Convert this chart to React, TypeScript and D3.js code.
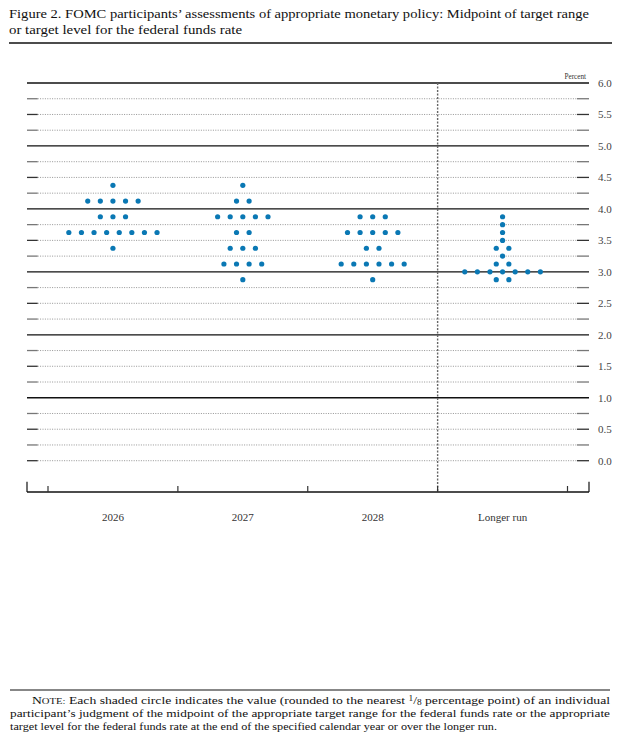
import React from "react";
import * as d3 from "d3";

const categories = ["2026", "2027", "2028", "Longer run"];

const values2026 = [
  4.375,
  4.125, 4.125, 4.125, 4.125, 4.125,
  3.875, 3.875, 3.875,
  3.625, 3.625, 3.625, 3.625, 3.625, 3.625, 3.625, 3.625,
  3.375,
];
const values2027 = [
  4.375,
  4.125, 4.125,
  3.875, 3.875, 3.875, 3.875, 3.875,
  3.625, 3.625,
  3.375, 3.375, 3.375,
  3.125, 3.125, 3.125, 3.125,
  2.875,
];
const values2028 = [
  3.875, 3.875, 3.875,
  3.625, 3.625, 3.625, 3.625, 3.625,
  3.375, 3.375,
  3.125, 3.125, 3.125, 3.125, 3.125, 3.125,
  2.875,
];
const valuesLongerRun = [
  3.875,
  3.75,
  3.625,
  3.5,
  3.375, 3.375,
  3.25,
  3.125, 3.125,
  3.0, 3.0, 3.0, 3.0, 3.0, 3.0, 3.0,
  2.875, 2.875,
];
const seriesValues = [values2026, values2027, values2028, valuesLongerRun];

const yTickLabels = ["0.0", "0.5", "1.0", "1.5", "2.0", "2.5", "3.0", "3.5", "4.0", "4.5", "5.0", "5.5", "6.0"];

const titleLine1 = "Figure 2. FOMC participants\u2019 assessments of appropriate monetary policy: Midpoint of target range";
const titleLine2 = "or target level for the federal funds rate";

const SERIF = "'Liberation Serif', 'DejaVu Serif', serif";
const DOT = "#0a78b4";

export default function App() {
  const W = 631;
  const H = 747;
  const plotLeft = 27;
  const plotRight = 589;
  const axisY = 492;

  const y = d3.scaleLinear().domain([0, 6]).range([460.7, 83]);
  const x = d3.scaleBand<string>().domain(categories).range([48, 567.5]).paddingInner(0).paddingOuter(0);
  const dotSpacing = 12.6;

  const gridVals = d3.range(0, 6.001, 0.25).map((v) => +v.toFixed(2));

  const dots: { cx: number; cy: number; key: string }[] = [];
  seriesValues.forEach((vals, ci) => {
    const groups = d3.rollups(vals, (g) => g.length, (d) => d);
    const center = (x(categories[ci]) as number) + x.bandwidth() / 2;
    groups.forEach(([val, count]) => {
      for (let i = 0; i < count; i++) {
        dots.push({
          cx: center + (i - (count - 1) / 2) * dotSpacing,
          cy: y(val),
          key: `${ci}-${val}-${i}`,
        });
      }
    });
  });

  const boundaries = categories.map((c) => x(c) as number).concat([(x(categories[3]) as number) + x.bandwidth()]);
  const dividerX = x(categories[3]) as number;

  return (
    <svg
      width={W}
      height={H}
      viewBox={`0 0 ${W} ${H}`}
      style={{ position: "absolute", left: 0, top: 0, display: "block", background: "#fff" }}
    >
      <rect x={0} y={0} width={W} height={H} fill="#fff" />
      {/* Title */}
      <text x={9} y={18} fontFamily={SERIF} fontSize={12.8} fill="#111" textLength={580} lengthAdjust="spacingAndGlyphs">
        {titleLine1}
      </text>
      <text x={9} y={34} fontFamily={SERIF} fontSize={12.8} fill="#111" textLength={233} lengthAdjust="spacingAndGlyphs">
        {titleLine2}
      </text>
      <line x1={9} x2={612} y1={43} y2={43} stroke="#111" strokeWidth={1.6} />

      {/* Percent label */}
      <text x={586} y={79} fontFamily={SERIF} fontSize={7.2} fill="#333" textAnchor="end">
        Percent
      </text>

      {/* Grid */}
      {gridVals.map((v) => {
        const yy = y(v);
        const isInt = Math.abs(v - Math.round(v)) < 1e-6 && v > 0;
        if (isInt) {
          return (
            <line key={`g${v}`} x1={plotLeft} x2={plotRight} y1={yy} y2={yy} stroke="#111" strokeWidth={1.3} />
          );
        }
        const half = Math.abs(v * 2 - Math.round(v * 2)) < 1e-6;
        return (
          <g key={`g${v}`}>
            <line x1={37.7} x2={577} y1={yy} y2={yy} stroke="#8a8a8a" strokeWidth={0.9} strokeDasharray="1,1.4" />
            <line x1={plotLeft} x2={37.7} y1={yy} y2={yy} stroke={half ? "#333" : "#777"} strokeWidth={1.3} />
            <line x1={577} x2={plotRight} y1={yy} y2={yy} stroke={half ? "#333" : "#777"} strokeWidth={1.3} />
          </g>
        );
      })}

      {/* Right tick labels */}
      {yTickLabels.map((t) => (
        <text
          key={`t${t}`}
          x={598}
          y={y(+t)}
          dy="0.35em"
          fontFamily={SERIF}
          fontSize={11}
          fill="#444"
        >
          {t}
        </text>
      ))}

      {/* Vertical divider */}
      <line x1={dividerX} x2={dividerX} y1={83} y2={axisY} stroke="#666" strokeWidth={1.4} strokeDasharray="2,1.5" />

      {/* Bottom axis */}
      <line x1={plotLeft} x2={plotRight} y1={axisY} y2={axisY} stroke="#111" strokeWidth={1.3} />
      <line x1={plotLeft} x2={plotLeft} y1={481.7} y2={axisY} stroke="#111" strokeWidth={1.2} />
      <line x1={plotRight} x2={plotRight} y1={481.7} y2={axisY} stroke="#111" strokeWidth={1.2} />
      {boundaries.map((b, i) => (
        <line key={`b${i}`} x1={b} x2={b} y1={486} y2={axisY} stroke="#333" strokeWidth={1.2} />
      ))}

      {/* Category labels */}
      {categories.map((c) => (
        <text
          key={c}
          x={(x(c) as number) + x.bandwidth() / 2}
          y={521}
          textAnchor="middle"
          fontFamily={SERIF}
          fontSize={11}
          fill="#333"
        >
          {c}
        </text>
      ))}

      {/* Dots */}
      {dots.map((d) => (
        <circle key={d.key} cx={d.cx} cy={d.cy} r={2.6} fill={DOT} />
      ))}

      {/* Note */}
      <line x1={10} x2={610} y1={690} y2={690} stroke="#111" strokeWidth={1.1} />
      <text x={32} y={704} fontFamily={SERIF} fontSize={11} fill="#111" textLength={578} lengthAdjust="spacingAndGlyphs">
        <tspan>N</tspan>
        <tspan fontSize={8.6}>OTE:</tspan>
        <tspan> Each shaded circle indicates the value (rounded to the nearest </tspan>
        <tspan fontSize={7.5} dy={-3}>1</tspan>
        <tspan dy={3}>/</tspan>
        <tspan fontSize={7.5} dy={1}>8</tspan>
        <tspan dy={-1}> percentage point) of an individual</tspan>
      </text>
      <text x={10} y={717} fontFamily={SERIF} fontSize={11} fill="#111" textLength={600} lengthAdjust="spacingAndGlyphs">
        participant&#8217;s judgment of the midpoint of the appropriate target range for the federal funds rate or the appropriate
      </text>
      <text x={10} y={730} fontFamily={SERIF} fontSize={11} fill="#111" textLength={487} lengthAdjust="spacingAndGlyphs">
        target level for the federal funds rate at the end of the specified calendar year or over the longer run.
      </text>
    </svg>
  );
}
